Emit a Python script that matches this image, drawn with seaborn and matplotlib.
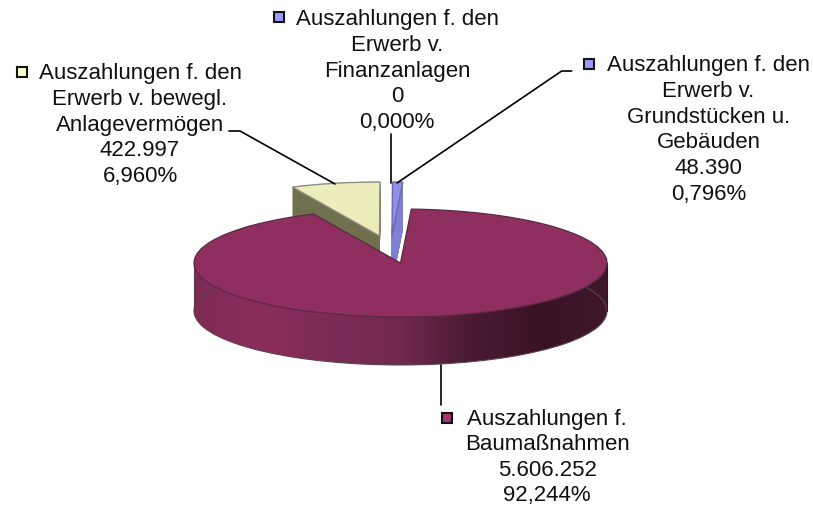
import numpy as np
import seaborn as sns
import matplotlib.pyplot as plt
from matplotlib.colors import LinearSegmentedColormap
from matplotlib.patches import Rectangle

names = ['Auszahlungen f.\nBaumaßnahmen',
         'Auszahlungen f. den\nErwerb v. bewegl.\nAnlagevermögen',
         'Auszahlungen f. den\nErwerb v.\nFinanzanlagen',
         'Auszahlungen f. den\nErwerb v.\nGrundstücken u.\nGebäuden']
values = [5606252, 422997, 0, 48390]
value_labels = ['5.606.252', '422.997', '0', '48.390']
percent_labels = ['92,244%', '6,960%', '0,000%', '0,796%']

W, H = 813, 506
CX, CY, RX, RY, DEPTH = 400.5, 264, 206.5, 54, 48

sns.set_theme(style='white')
plt.rcParams['font.family'] = ['Liberation Sans', 'DejaVu Sans']

top_colors = sns.color_palette(['#8F2F5F', '#ECECBC', '#8F8FEA', '#8F8FEA'])
side_colors = sns.color_palette(['#70294F', '#70704F', '#7F7FD4', '#7F7FD4'])
key_colors = sns.color_palette(['#A8366F', '#FFFFCC', '#9999FF', '#9999FF'])
edge_colors = ['#5A2A45', '#8C8C80', '#6A6AA8', '#6A6AA8']
side_ramp = ['#7E2A54', '#8B2D5B', '#7C2B55', '#70294F', '#4A1B33', '#3A1226', '#40182C']


def to_data(px, py):
    return (px - CX) / RX, (CY - py) / RY


fig = plt.figure(figsize=(W / 100, H / 100), dpi=100)
ax = fig.add_axes([0, 0, 1, 1])


def one_slice(i, center, face, edge='none', lw=0.0, z=2):
    wedges, _ = ax.pie(values, startangle=87, counterclock=False, center=center,
                       colors=[face] * 4, radius=1,
                       wedgeprops={'edgecolor': edge, 'linewidth': lw})
    for j, w in enumerate(wedges):
        if j != i:
            w.remove()
    wedges[i].set_zorder(z)
    return wedges[i]


# the two pulled out slices, extruded with a stack of copies
for i, (px, py) in {1: (379.5, 237), 3: (392, 237)}.items():
    cx, cy = to_data(px, py)
    for d in np.linspace(DEPTH / RY, 0, 97)[:-1]:
        one_slice(i, (cx, cy - d), side_colors[i], side_colors[i], 0.2, z=2)
    one_slice(i, (cx, cy), top_colors[i], edge_colors[i], 1.0, z=3)

# main slice: side with a horizontal gradient, then top face
ramp = LinearSegmentedColormap.from_list('side', side_ramp)
d = DEPTH / RY
band = Rectangle((-1, -d), 2, d, facecolor='none', edgecolor='none', zorder=4)
below = Rectangle((-1.01, -d - 1.01), 2.02, 1.01, facecolor='none', edgecolor='none', zorder=4)
ax.add_patch(band)
ax.add_patch(below)
bottom = one_slice(0, (0, -d), 'none', '#5A4552', 0.8, z=5)
bottom.set_clip_path(below)
fill = one_slice(0, (0, -d), 'none', z=3)
for clip in (fill, band):
    im = ax.imshow(np.linspace(0, 1, 256)[None, :], cmap=ramp, aspect='auto',
                   extent=(-1, 1, -d - 1, 0), zorder=4)
    im.set_clip_path(clip)
ax.plot([-1, -1], [0, -d], color='#5A3A4A', lw=0.8, zorder=5)
ax.plot([1, 1], [0, -d], color='#2A1420', lw=0.8, zorder=5)
one_slice(0, (0, 0), top_colors[0], edge_colors[0], 0.9, z=6)

ax.set_aspect('auto')
ax.set_xlim(to_data(0, 0)[0], to_data(W, 0)[0])
ax.set_ylim(to_data(0, H)[1], to_data(0, 0)[1])
ax.axis('off')

# leader lines
leaders = [[(440.5, 366), (440.5, 406)],
           [(229, 132), (240, 132), (335, 185)],
           [(390.7, 135), (390.7, 184)],
           [(397, 184), (561.7, 72), (571.7, 72)]]
for pts in leaders:
    xs, ys = zip(*[to_data(*p) for p in pts])
    ax.plot(xs, ys, color='black', lw=1.2, zorder=7)

# labels with their legend keys
text_pos = [(547, 457.5), (140, 125), (397, 71), (708.5, 130)]
key_pos = [(447, 419), (21.5, 72.5), (279, 18), (589, 64.5)]
for i in range(4):
    label = f'{names[i]}\n{value_labels[i]}\n{percent_labels[i]}'
    fig.text(text_pos[i][0] / W, 1 - text_pos[i][1] / H, label, ha='center', va='center',
             fontsize=16.05, color='#111111', linespacing=1.29)
    kx, ky = to_data(*key_pos[i])
    ax.plot([kx], [ky], marker='s', ms=7.5, mfc=key_colors[i], mec='#111111', mew=1.5,
            ls='none', zorder=7, clip_on=False)

fig.savefig('out.png', dpi=100)
